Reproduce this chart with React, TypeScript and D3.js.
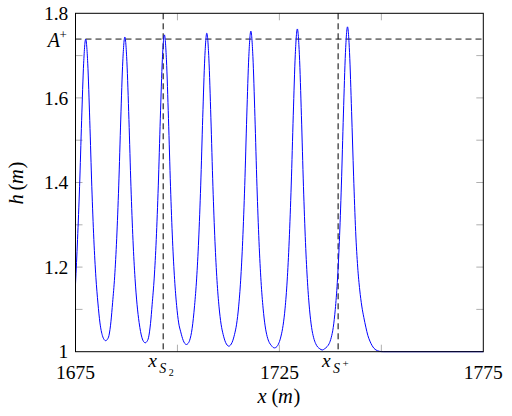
import React from "react";
import * as d3 from "d3";

const xs = [
  1675.0, 1675.5, 1676.0, 1676.5, 1677.0, 1677.5, 1678.0, 1678.5, 1679.0, 1679.5, 1680.0, 1680.5, 1681.0, 1681.6,
  1682.0, 1682.4, 1682.8, 1683.2, 1683.7, 1684.1, 1684.6, 1685.1, 1685.6, 1686.1, 1686.6, 1687.1, 1687.6, 1688.1,
  1688.6, 1689.1, 1689.6, 1690.1, 1690.6, 1691.3, 1691.7, 1692.1, 1692.5, 1692.9, 1693.4, 1693.8, 1694.3, 1694.8,
  1695.3, 1695.8, 1696.3, 1696.8, 1697.3, 1697.8, 1698.3, 1698.8, 1699.3, 1699.8, 1700.3, 1700.8, 1701.4, 1701.8,
  1702.2, 1702.6, 1703.0, 1703.6, 1704.2, 1704.7, 1705.2, 1705.7, 1706.2, 1706.7, 1707.2, 1707.7, 1708.2, 1708.7,
  1709.2, 1709.7, 1710.2, 1710.7, 1711.2, 1711.8, 1712.2, 1712.6, 1713.0, 1713.4, 1714.0, 1714.5, 1715.0, 1715.5,
  1716.0, 1716.5, 1717.0, 1717.5, 1718.0, 1718.5, 1719.0, 1719.5, 1720.0, 1720.5, 1721.0, 1721.5, 1722.0, 1722.5,
  1723.0, 1723.4, 1723.8, 1724.2, 1724.6, 1724.9, 1725.4, 1725.9, 1726.4, 1726.9, 1727.4, 1727.9, 1728.4, 1728.9,
  1729.4, 1729.9, 1730.4, 1730.9, 1731.4, 1731.9, 1732.4, 1732.9, 1733.4, 1733.9, 1734.4, 1734.9, 1735.5, 1736.1,
  1736.7, 1737.2, 1737.7, 1738.2, 1738.7, 1739.2, 1739.7, 1740.2, 1740.7, 1741.2, 1741.7, 1742.2, 1742.7, 1743.2,
  1743.7, 1744.2, 1744.7, 1745.2, 1745.7, 1746.2, 1746.7, 1747.2, 1747.7, 1748.2, 1748.7, 1749.5, 1750.5, 1775.0,
];
const hs = [
  1.160, 1.265, 1.390, 1.546, 1.682, 1.739, 1.682, 1.546, 1.390, 1.265, 1.176, 1.115, 1.068, 1.038,
  1.029, 1.026, 1.029, 1.038, 1.072, 1.116, 1.177, 1.267, 1.392, 1.550, 1.687, 1.744, 1.686, 1.549,
  1.390, 1.263, 1.173, 1.111, 1.069, 1.033, 1.024, 1.021, 1.024, 1.033, 1.067, 1.112, 1.174, 1.265,
  1.392, 1.552, 1.691, 1.749, 1.690, 1.551, 1.390, 1.262, 1.171, 1.109, 1.068, 1.047, 1.027, 1.0195,
  1.017, 1.0195, 1.027, 1.055, 1.109, 1.172, 1.264, 1.392, 1.554, 1.694, 1.753, 1.694, 1.553, 1.390,
  1.261, 1.168, 1.106, 1.065, 1.041, 1.022, 1.0155, 1.013, 1.0155, 1.022, 1.041, 1.065, 1.106, 1.169,
  1.263, 1.393, 1.557, 1.698, 1.758, 1.698, 1.556, 1.391, 1.260, 1.166, 1.103, 1.061, 1.036, 1.022,
  1.015, 1.0105, 1.009, 1.0105, 1.015, 1.021, 1.037, 1.062, 1.103, 1.167, 1.262, 1.394, 1.559, 1.703,
  1.763, 1.702, 1.558, 1.391, 1.258, 1.163, 1.099, 1.057, 1.033, 1.019, 1.011, 1.007, 1.004, 1.007,
  1.012, 1.019, 1.033, 1.057, 1.100, 1.164, 1.260, 1.394, 1.562, 1.707, 1.768, 1.707, 1.568, 1.415,
  1.284, 1.200, 1.146, 1.108, 1.081, 1.058, 1.038, 1.025, 1.015, 1.008, 1.004, 1.001, 1.000, 1.000,
];

const xDomain = [1675, 1775];
const yDomain = [1, 1.8];
const xTickLabels = [1675, 1725, 1775];
const xTickMarks = [1700, 1725, 1750];
const yTickLabels = [1, 1.2, 1.4, 1.6, 1.8];
const yTickMarks = [1.1, 1.2, 1.3, 1.4, 1.5, 1.6, 1.7];
const aPlus = 1.739;
const xS2 = 1696.5;
const xSPlus = 1739.4;

const FONT = "Liberation Serif";

export default function App() {
  const left = 75.5, right = 483.3, top = 13.3, bottom = 351.7;
  const x = d3.scaleLinear().domain(xDomain).range([left, right]);
  const y = d3.scaleLinear().domain(yDomain).range([bottom, top]);
  const pts = xs.map((v, i) => [v, hs[i]] as [number, number]);
  const line = d3
    .line<[number, number]>()
    .x((d) => x(d[0]))
    .y((d) => y(d[1]))
    .curve(d3.curveMonotoneX);
  const tick = 7;
  const tickColor = "#9a9a9a";
  const fs = 19.5;
  const cx = (left + right) / 2;
  const cy = (top + bottom) / 2;
  const f = { fontFamily: FONT };

  return (
    <svg
      width={512}
      height={416}
      style={{ position: "absolute", left: 0, top: 0, background: "#fff", fontFamily: FONT }}
    >
      <rect x={0} y={0} width={512} height={416} fill="#fff" />
      {xTickMarks.map((t) => (
        <g key={"xt" + t}>
          <line x1={x(t)} x2={x(t)} y1={bottom} y2={bottom - tick} stroke={tickColor} strokeWidth={0.8} />
          <line x1={x(t)} x2={x(t)} y1={top} y2={top + tick} stroke={tickColor} strokeWidth={0.8} />
        </g>
      ))}
      {yTickMarks.map((t) => (
        <g key={"yt" + t}>
          <line x1={left} x2={left + tick} y1={y(t)} y2={y(t)} stroke={tickColor} strokeWidth={0.8} />
          <line x1={right} x2={right - tick} y1={y(t)} y2={y(t)} stroke={tickColor} strokeWidth={0.8} />
        </g>
      ))}
      <line x1={left} x2={right} y1={y(aPlus)} y2={y(aPlus)} stroke="#7a7a7a" strokeWidth={1.6} strokeDasharray="6,4" />
      <line x1={x(xS2)} x2={x(xS2)} y1={top} y2={bottom} stroke="#000" strokeWidth={1} strokeDasharray="6,4" />
      <line x1={x(xSPlus)} x2={x(xSPlus)} y1={top} y2={bottom} stroke="#000" strokeWidth={1} strokeDasharray="6,4" />
      <path d={line(pts) || ""} fill="none" stroke="#0000ff" strokeWidth={1} />
      <rect x={left} y={top} width={right - left} height={bottom - top} fill="none" stroke="#000" strokeWidth={1} />
      {xTickLabels.map((t) => (
        <text key={"xl" + t} x={x(t)} y={379.3} textAnchor="middle" fontSize={fs} fill="#000" style={f}>
          {t}
        </text>
      ))}
      <text x={x(xS2) - 15} y={367} fontSize={fs} fontStyle="italic" fill="#000" style={f}>x</text>
      <text x={x(xS2) - 4} y={373} fontSize={14} fontStyle="italic" fill="#000" style={f}>S</text>
      <text x={x(xS2) + 5.5} y={376} fontSize={10} fill="#000" style={f}>2</text>
      <text x={x(xSPlus) - 16} y={367} fontSize={fs} fontStyle="italic" fill="#000" style={f}>x</text>
      <text x={x(xSPlus) - 5} y={373} fontSize={14} fontStyle="italic" fill="#000" style={f}>S</text>
      <text x={x(xSPlus) + 4.5} y={367} fontSize={11} fill="#000" style={f}>+</text>
      {yTickLabels.map((t) => (
        <text key={"yl" + t} x={68.3} y={y(t) + 6.6} textAnchor="end" fontSize={fs} fill="#000" style={f}>
          {t === 1 ? "1" : t.toFixed(1)}
        </text>
      ))}
      <text x={60} y={47.3} textAnchor="end" fontSize={20} fontStyle="italic" fill="#000" style={f}>A</text>
      <text x={59.5} y={39} fontSize={13} fill="#000" style={f}>+</text>
      <g fontSize={20.5} fill="#000" style={f}>
        <text x={cx - 22} y={403} fontStyle="italic">x</text>
        <text x={cx - 8} y={403}>(</text>
        <text x={cx - 1.5} y={403} fontStyle="italic">m</text>
        <text x={cx + 14} y={403}>)</text>
      </g>
      <g transform={`translate(23,${cy}) rotate(-90)`} fontSize={20.5} fill="#000" style={f}>
        <text x={-22} y={0} fontStyle="italic">h</text>
        <text x={-8} y={0}>(</text>
        <text x={-1.5} y={0} fontStyle="italic">m</text>
        <text x={14} y={0}>)</text>
      </g>
    </svg>
  );
}
